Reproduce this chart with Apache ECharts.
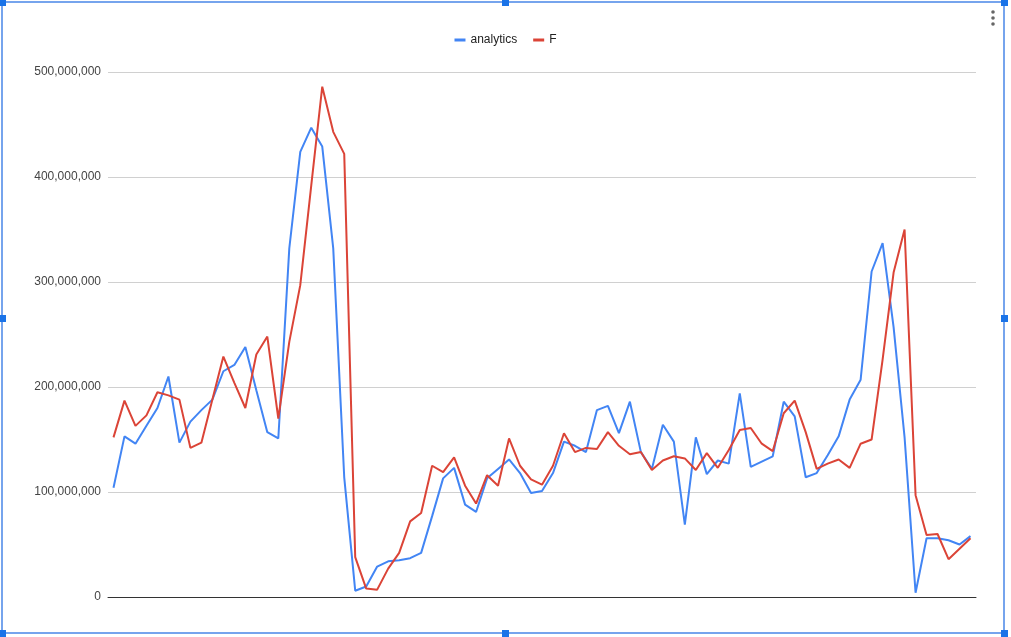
<!DOCTYPE html>
<html>
<head>
<meta charset="utf-8">
<script src="https://cdn.jsdelivr.net/npm/echarts@6/dist/echarts.min.js"></script>
<style>
html,body{margin:0;padding:0;background:#fff;}
#chart{width:1011px;height:637px;}
</style>
</head>
<body>
<div id="chart"></div>
<script>
// values in millions
const analytics = [104,153,146,163,180,210,147,167,178,188,215,221,238,197,157,151,332,424,447,429,
  332,114,6,10,29,34,35,37,42,77,113,123,88,81,113,122,131,118,99,101,
  118,148,144,138,178,182,156,186,138,122,164,148,69,152,117,130,127,194,124,129,
  134,186,172,114,118,135,153,188,207,310,337,257,152,4,56,56,54,50,58];
const F = [152,187,163,173,195,192,188,142,147,188,229,204,180,231,248,170,243,297,392,486,
  443,422,38,8,7,27,42,72,80,125,119,133,106,89,116,106,151,125,112,107,
  125,156,138,142,141,157,144,136,138,121,130,134,132,121,137,123,140,159,161,146,
  139,175,187,157,122,127,131,123,146,150,226,309,350,97,59,60,36,46,56];
const categories = analytics.map((_, i) => String(i + 1));
const seriesNames = ['analytics', 'F'];
const yTicks = [0, 100000000, 200000000, 300000000, 400000000, 500000000];

const chart = echarts.init(document.getElementById('chart'));
const blue = '#4285F4', red = '#DB4437';
const handle = (x, y) => ({type:'rect', shape:{x:x-3, y:y-3, width:7, height:7}, style:{fill:'#1a73e8'}, z:100});
chart.setOption({
  animation:false,
  textStyle:{fontFamily:'Arial, "Liberation Sans", sans-serif'},
  legend:{
    top:29, left:'center',
    icon:'rect', itemWidth:11, itemHeight:3, itemGap:16,
    textStyle:{fontSize:12, color:'#222'},
    data:seriesNames
  },
  grid:{left:108, right:35, top:72, bottom:40},
  xAxis:{
    type:'category', data:categories, boundaryGap:true,
    axisLine:{show:true, lineStyle:{color:'#333', width:1}},
    axisTick:{show:false}, axisLabel:{show:false}, splitLine:{show:false}
  },
  yAxis:{
    type:'value', min:yTicks[0], max:yTicks[yTicks.length-1], interval:100000000,
    axisLine:{show:false}, axisTick:{show:false},
    axisLabel:{color:'#444', fontSize:12, margin:7,
      formatter:v => v.toLocaleString('en-US')},
    splitLine:{lineStyle:{color:'#d0d0d0', width:1}}
  },
  series:[
    {name:seriesNames[0], type:'line', data:analytics.map(v=>v*1e6), showSymbol:false,
     lineStyle:{color:blue, width:2}, itemStyle:{color:blue}},
    {name:seriesNames[1], type:'line', data:F.map(v=>v*1e6), showSymbol:false,
     lineStyle:{color:red, width:2}, itemStyle:{color:red}}
  ],
  graphic:[
    {type:'rect', shape:{x:2, y:2, width:1002, height:631}, style:{fill:'none', stroke:'#4a86e8', lineWidth:1.5}, z:99},
    handle(2,2), handle(505,2), handle(1004,2),
    handle(2,318), handle(1004,318),
    handle(2,633), handle(505,633), handle(1004,633),
    {type:'circle', shape:{cx:993, cy:12, r:1.8}, style:{fill:'#666'}},
    {type:'circle', shape:{cx:993, cy:18, r:1.8}, style:{fill:'#666'}},
    {type:'circle', shape:{cx:993, cy:24, r:1.8}, style:{fill:'#666'}}
  ]
});
</script>
</body>
</html>
